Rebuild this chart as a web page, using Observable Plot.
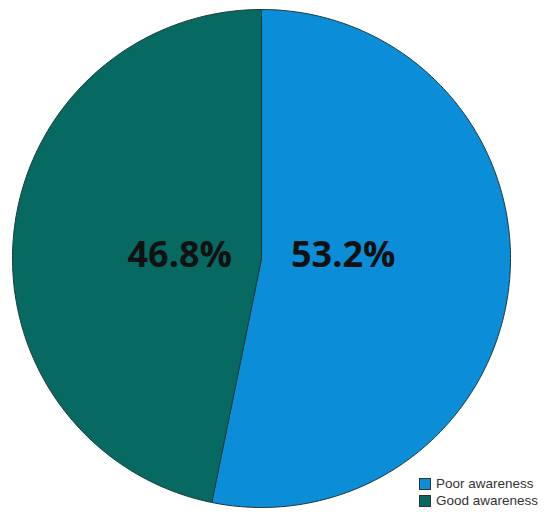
<!DOCTYPE html>
<html>
<head>
<meta charset="utf-8">
<script src="https://cdn.jsdelivr.net/npm/d3@7"></script>
<script src="https://cdn.jsdelivr.net/npm/@observablehq/plot@0.6"></script>
<style>
  body { margin: 0; background: #fff; }
  #wrap { position: relative; width: 550px; height: 519px; }
  #legend { position: absolute; left: 419px; top: 475px; font-family: "Liberation Sans", Arial, sans-serif; font-size: 13.5px; color: #333; line-height: 17px; }
  #legend .row { display: flex; align-items: center; }
  #legend .sw { width: 10px; height: 10px; border: 1px solid #333; margin-right: 5px; }
</style>
</head>
<body>
<div id="wrap"><div id="legend"></div></div>
<script>
const categories = ["Poor awareness", "Good awareness"];
const values = [53.2, 46.8];
const labels = ["53.2%", "46.8%"];
const colors = ["#0b8dd8", "#076a62"];

const pie = d3.pie().sort(null).value(d => d.value)(categories.map((c, i) => ({cat: c, value: values[i], label: labels[i]})));

// arc outlines as polygons in unit-circle coordinates (angle 0 = top, clockwise)
const pts = [];
for (const a of pie) {
  const n = 200;
  pts.push({cat: a.data.cat, x: 0, y: 0});
  for (let k = 0; k <= n; k++) {
    const t = a.startAngle + (a.endAngle - a.startAngle) * k / n;
    pts.push({cat: a.data.cat, x: Math.sin(t), y: Math.cos(t)});
  }
  pts.push({cat: a.data.cat, x: 0, y: 0});
}
const lab = pie.map(a => {
  const m = (a.startAngle + a.endAngle) / 2;
  return {label: a.data.label, x: 0.33 * Math.sin(m), y: 0.014};
});

const chart = Plot.plot({
  width: 550,
  height: 519,
  marginLeft: 12,
  marginRight: 40,
  marginTop: 9,
  marginBottom: 12,
  x: {domain: [-1, 1], axis: null},
  y: {domain: [-1, 1], axis: null},
  color: {domain: categories, range: colors},
  marks: [
    Plot.line(pts, {x: "x", y: "y", z: "cat", fill: "cat", stroke: "#1c3b3a", strokeWidth: 1, curve: "linear"}),
    Plot.text(lab, {x: "x", y: "y", text: "label", fontSize: 36, fontWeight: "bold", fill: "#111", fontFamily: "Open Sans"})
  ]
});
document.getElementById("wrap").prepend(chart);

const leg = document.getElementById("legend");
categories.forEach((c, i) => {
  const row = document.createElement("div");
  row.className = "row";
  const sw = document.createElement("div");
  sw.className = "sw";
  sw.style.background = colors[i];
  const t = document.createElement("span");
  t.textContent = c;
  row.append(sw, t);
  leg.append(row);
});
</script>
</body>
</html>
